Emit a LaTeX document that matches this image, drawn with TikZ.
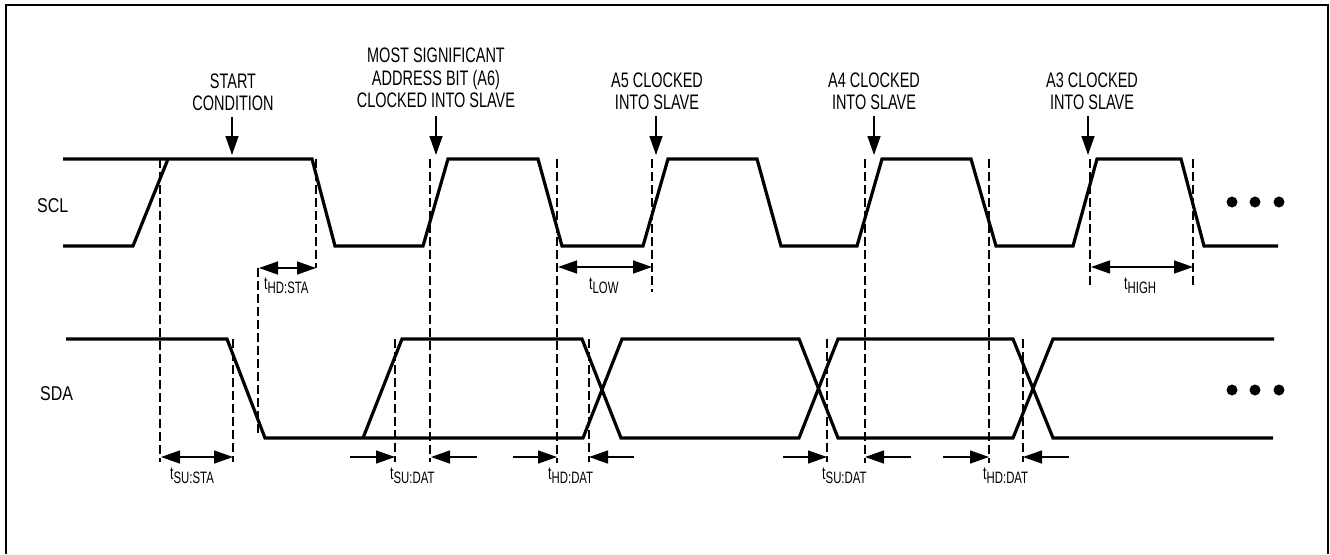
\documentclass[tikz,border=0pt]{standalone}
\usepackage{fontspec}
\setmainfont{Liberation Sans}
\newfontfamily\cond[FakeStretch=0.69]{Liberation Sans}
\newfontfamily\condw[FakeStretch=0.8]{Liberation Sans}
\usetikzlibrary{arrows.meta}
\newcommand{\tlab}[1]{t\raisebox{-4.5pt}{\fontsize{16.5}{17}\selectfont #1}}
\begin{document}
\begin{tikzpicture}[x=1pt,y=-1pt,
  wave/.style={line width=3.2pt,line join=miter},
  guide/.style={line width=1.4pt,dash pattern=on 9pt off 4pt},
  dimline/.style={line width=1.4pt},
  tiptwo/.style={{Triangle[length=19pt,width=13pt]}-{Triangle[length=19pt,width=13pt]}},
  tipone/.style={-{Triangle[length=19pt,width=13pt]}},
  lbl/.style={font={\cond\fontsize{21}{22.5}\selectfont},align=center,inner sep=0pt},
  sig/.style={font={\condw\fontsize{20}{22}\selectfont},inner sep=0pt},
  tl/.style={font={\cond\fontsize{18}{20}\selectfont},inner sep=0pt},
  dot/.style={fill=black}
]
\useasboundingbox (0,0) rectangle (1330,554);
% frame
\draw[line width=2.2pt] (6,554) -- (6,5) -- (1328,5) -- (1328,554);

% labels
\node[sig,anchor=base west] (lSCL) at (37,212) {SCL};
\node[sig,anchor=base west] (lSDA) at (40,400) {SDA};

\node[lbl,anchor=south] (lStart) at (233,111) {START\\CONDITION};
\node[lbl,anchor=south] (lA6) at (436,108) {MOST SIGNIFICANT\\ADDRESS BIT (A6)\\CLOCKED INTO SLAVE};
\node[lbl,anchor=south] (lA5) at (657,110) {A5 CLOCKED\\INTO SLAVE};
\node[lbl,anchor=south] (lA4) at (874,110) {A4 CLOCKED\\INTO SLAVE};
\node[lbl,anchor=south] (lA3) at (1092,110) {A3 CLOCKED\\INTO SLAVE};

% label arrows
\draw[dimline,tipone] (232,117) -- (232,155);
\draw[dimline,tipone] (436,116) -- (436,155);
\draw[dimline,tipone] (656,116) -- (656,155);
\draw[dimline,tipone] (874,116) -- (874,155);
\draw[dimline,tipone] (1088,116) -- (1088,155);

% SCL waveform
\draw[wave] (63,159) -- (312,159) -- (335,246) -- (423,246) -- (448,159) -- (538,159)
  -- (562,246) -- (643,246) -- (668,159) -- (757,159) -- (781,246) -- (857,246)
  -- (882,159) -- (971,159) -- (996,246) -- (1073,246) -- (1097,159) -- (1181,159)
  -- (1204,246) -- (1278,246);
\draw[wave] (63,246) -- (133,246) -- (168,159);

% SDA waveform
\draw[wave] (66,339) -- (227,339) -- (265,438) -- (583,438) -- (622,339) -- (799,339)
  -- (838,438) -- (1013,438) -- (1053,339) -- (1274,339);
\draw[wave] (363,438) -- (402,339) -- (582,339) -- (621,438) -- (799,438) -- (838,339)
  -- (1013,339) -- (1053,438) -- (1273,438);

% dashed guides
\draw[guide] (160,159) -- (160,462);
\draw[guide] (316,159) -- (316,268);
\draw[guide] (258,268) -- (258,435);
\draw[guide] (233,339) -- (233,462);
\draw[guide] (395,339) -- (395,462);
\draw[guide] (430,159) -- (430,462);
\draw[guide] (557,159) -- (557,463);
\draw[guide] (589,339) -- (589,462);
\draw[guide] (652,159) -- (652,292);
\draw[guide] (827,339) -- (827,462);
\draw[guide] (865,159) -- (865,463);
\draw[guide] (989,159) -- (989,463);
\draw[guide] (1023,339) -- (1023,462);
\draw[guide] (1090,159) -- (1090,288);
\draw[guide] (1193,159) -- (1193,288);

% dimension arrows
\draw[dimline,tiptwo] (259,268) -- (316,268);
\draw[dimline,tiptwo] (161,457) -- (233,457);
\draw[dimline,tiptwo] (558,267) -- (652,267);
\draw[dimline,tiptwo] (1091,267) -- (1193,267);

\draw[dimline,tipone] (350,457) -- (395,457);
\draw[dimline,tipone] (477,457) -- (431,457);
\draw[dimline,tipone] (513,457) -- (557,457);
\draw[dimline,tipone] (634,457) -- (589,457);
\draw[dimline,tipone] (783,457) -- (827,457);
\draw[dimline,tipone] (911,457) -- (865,457);
\draw[dimline,tipone] (943,457) -- (989,457);
\draw[dimline,tipone] (1069,457) -- (1023,457);

% timing labels
\node[tl,anchor=base west] (tHDSTA) at (264,289) {\tlab{HD:STA}};
\node[tl,anchor=base west] (tLOW) at (589,289) {\tlab{LOW}};
\node[tl,anchor=base west] (tHIGH) at (1124,289) {\tlab{HIGH}};
\node[tl,anchor=base west] (tSUSTA) at (170,479) {\tlab{SU:STA}};
\node[tl,anchor=base west] (tSUDAT1) at (390,479) {\tlab{SU:DAT}};
\node[tl,anchor=base west] (tHDDAT1) at (548,479) {\tlab{HD:DAT}};
\node[tl,anchor=base west] (tSUDAT2) at (822,479) {\tlab{SU:DAT}};
\node[tl,anchor=base west] (tHDDAT2) at (983,479) {\tlab{HD:DAT}};

% continuation dots
\foreach \xx in {1232,1255,1279} {
  \fill[dot] (\xx,202) circle (5.5pt);
  \fill[dot] (\xx,390) circle (5.5pt);
}
\end{tikzpicture}
\end{document}
